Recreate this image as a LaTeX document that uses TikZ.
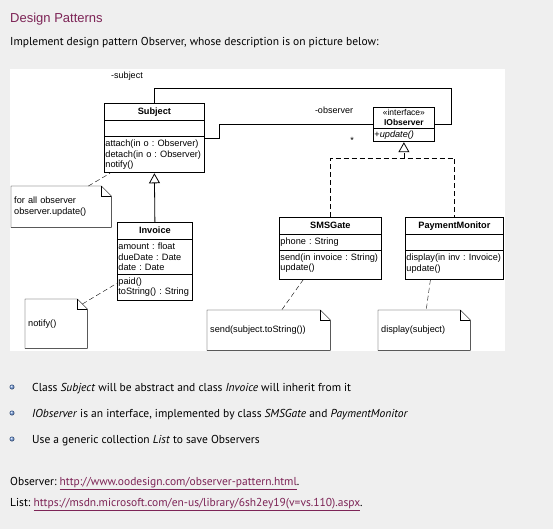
\documentclass[tikz,border=0pt]{standalone}
\usepackage{fontspec}
\setmainfont{PT Sans}
\newfontfamily\umlfont{Liberation Sans}
\usepackage{tikz}
\usetikzlibrary{shapes.multipart,arrows.meta,calc}
\frenchspacing

\definecolor{pagebg}{RGB}{239,239,239}
\definecolor{plum}{RGB}{125,36,86}
\definecolor{dotblue}{RGB}{110,150,215}

% folded corner of a note
\newcommand{\dogear}[1]{%
  \draw[thin] (#1.south west) -- (#1.north west) -- ([xshift=-10pt]#1.north east)
    -- ([yshift=-10pt]#1.north east) -- (#1.south east) -- cycle;
  \draw[thin] ([xshift=-10pt]#1.north east) |- ([yshift=-10pt]#1.north east);}
% extra room under the last line of a part
\newcommand{\xdp}[1]{\rule[-#1]{0pt}{#1}}
\newcommand{\ctitle}[1]{\centering\rule[-2.5pt]{0pt}{10.5pt}#1\par}
\newcommand{\blank}{\rule[-3pt]{0pt}{9pt}}
\newcommand{\umlsize}{\umlfont\fontsize{9.2}{10.5}\selectfont\raggedright\hyphenpenalty 10000\relax}
\newcommand{\lnk}[1]{\textcolor{plum}{\underline{#1}}}

\begin{document}
\begin{tikzpicture}[x=1pt, y=-1pt,
    class/.style={rectangle split, rectangle split parts=3, draw, line width=0.8pt,
      fill=white, anchor=north west, inner xsep=1pt, inner ysep=3pt, align=left,
      font=\umlsize},
    note/.style={anchor=north west, inner xsep=3pt, align=left,
      font=\umlfont\fontsize{9.2}{11}\selectfont},
    lbl/.style={font=\umlfont\fontsize{9}{10}\selectfont, inner sep=0pt},
    inherit/.style={-{Triangle[open, length=10pt, width=11pt]}, line width=0.8pt},
    realize/.style={inherit, dash pattern=on 5pt off 3pt},
    anchored/.style={dash pattern=on 5pt off 3pt, thin},
    bullet/.style={circle, shading=ball, ball color=dotblue, minimum size=5pt, inner sep=0pt},
    txt/.style={anchor=base west, inner sep=0pt, font=\fontsize{11.5}{13}\selectfont}]

  \useasboundingbox (0,0) rectangle (553,529);
  \fill[pagebg] (0,0) rectangle (553,529);
  \fill[white] (10,69) rectangle (505,351);

  % Heading
  \node[anchor=base west, inner sep=0pt, text=plum,
    font=\umlfont\fontsize{13}{15}\selectfont] (title) at (10,23) {Design Patterns};
  \node[txt] (intro) at (10,46)
    {Implement design pattern Observer, whose description is on picture below:};

  % Classes
  \node[class, text width=98pt] (subject) at (104,103)
    {\ctitle{\textbf{Subject}}\nodepart{two}\blank\nodepart{three}attach(in o : Observer)\\detach(in o : Observer)\\notify()};
  \node[class, text width=73pt] (invoice) at (117,222)
    {\ctitle{\textbf{Invoice}}\nodepart{two}amount : float\\dueDate : Date\\date : Date\nodepart{three}paid()\\toString() : String};
  \node[class, rectangle split parts=2, inner ysep=2pt, text width=59pt] (ifc) at (373,107)
    {\centering\fontsize{8.5}{10}\selectfont «interface»\\\textbf{IObserver}\par\nodepart{two}+\textit{update()}};
  \node[class, text width=100pt] (sms) at (279,217)
    {\ctitle{\textbf{SMSGate}}\nodepart{two}phone : String\nodepart{three}send(in invoice : String)\\update()\xdp{5pt}};
  \node[class, text width=96pt] (paymon) at (405,217)
    {\ctitle{\textbf{PaymentMonitor}}\nodepart{two}\blank\nodepart{three}display(in inv : Invoice)\\update()\xdp{5pt}};

  % Notes
  \node[note, text width=94pt, minimum height=41pt] (n1) at (11,186)
    {for all observer\\observer.update()};
  \node[note, text width=56pt, minimum height=49pt] (n2) at (25,299) {notify()};
  \node[note, text width=117pt, minimum height=40pt] (n3) at (207,310)
    {send(subject.toString())};
  \node[note, text width=86pt, minimum height=40pt] (n4) at (378,310) {display(subject)};
  \dogear{n1}
  \dogear{n2}
  \dogear{n3}
  \dogear{n4}

  % Role labels
  \node[lbl] (rsub) at (127,76) {-subject};
  \node[lbl] (robs) at (334,110) {-observer};
  \node[lbl] (mult) at (352,140) {*};

  % Edges
  \draw[line width=0.9pt] (subject.north) -- ++(0,-15) -| ([xshift=17pt]ifc.east) -- (ifc.east);
  \draw[line width=0.9pt] (subject.east) -- ++(15,0) |- (ifc.west);
  \draw[inherit] (invoice.north) -- (subject.south);
  \coordinate (join) at ($(ifc.south)+(0,16)$);
  \draw[realize] (join) -- (ifc.south);
  \draw[anchored, line width=0.8pt] (sms.north) |- (join) -| (paymon.north);
  \draw[anchored] ([xshift=-23pt]n1.north east) -- ([xshift=6pt]subject.south west);
  \draw[anchored] ([shift={(-5pt,-5pt)}]n2.north east) -- ([yshift=-22pt]invoice.west);
  \draw[anchored] ([xshift=-27pt]sms.south) -- ([xshift=13pt]n3.north);
  \draw[anchored] ([xshift=-24pt]paymon.south) -- ([xshift=2pt]n4.north);

  % Task list
  \node[bullet] (b1) at (12,387) {};
  \node[bullet] (b2) at (12,413) {};
  \node[bullet] (b3) at (12,439) {};
  \node[txt] (t1) at (32,391)
    {Class \textit{Subject} will be abstract and class \textit{Invoice} will inherit from it};
  \node[txt] (t2) at (32,417)
    {\textit{IObserver} is an interface, implemented by class \textit{SMSGate} and \textit{PaymentMonitor}};
  \node[txt] (t3) at (32,443)
    {Use a generic collection \textit{List} to save Observers};

  % References
  \node[txt] (ref1) at (10,485)
    {Observer: \lnk{http://www.oodesign.com/observer-pattern.html}.};
  \node[txt] (ref2) at (10,506)
    {List: \lnk{https://msdn.microsoft.com/en-us/library/6sh2ey19(v=vs.110).aspx}.};
\end{tikzpicture}
\end{document}
